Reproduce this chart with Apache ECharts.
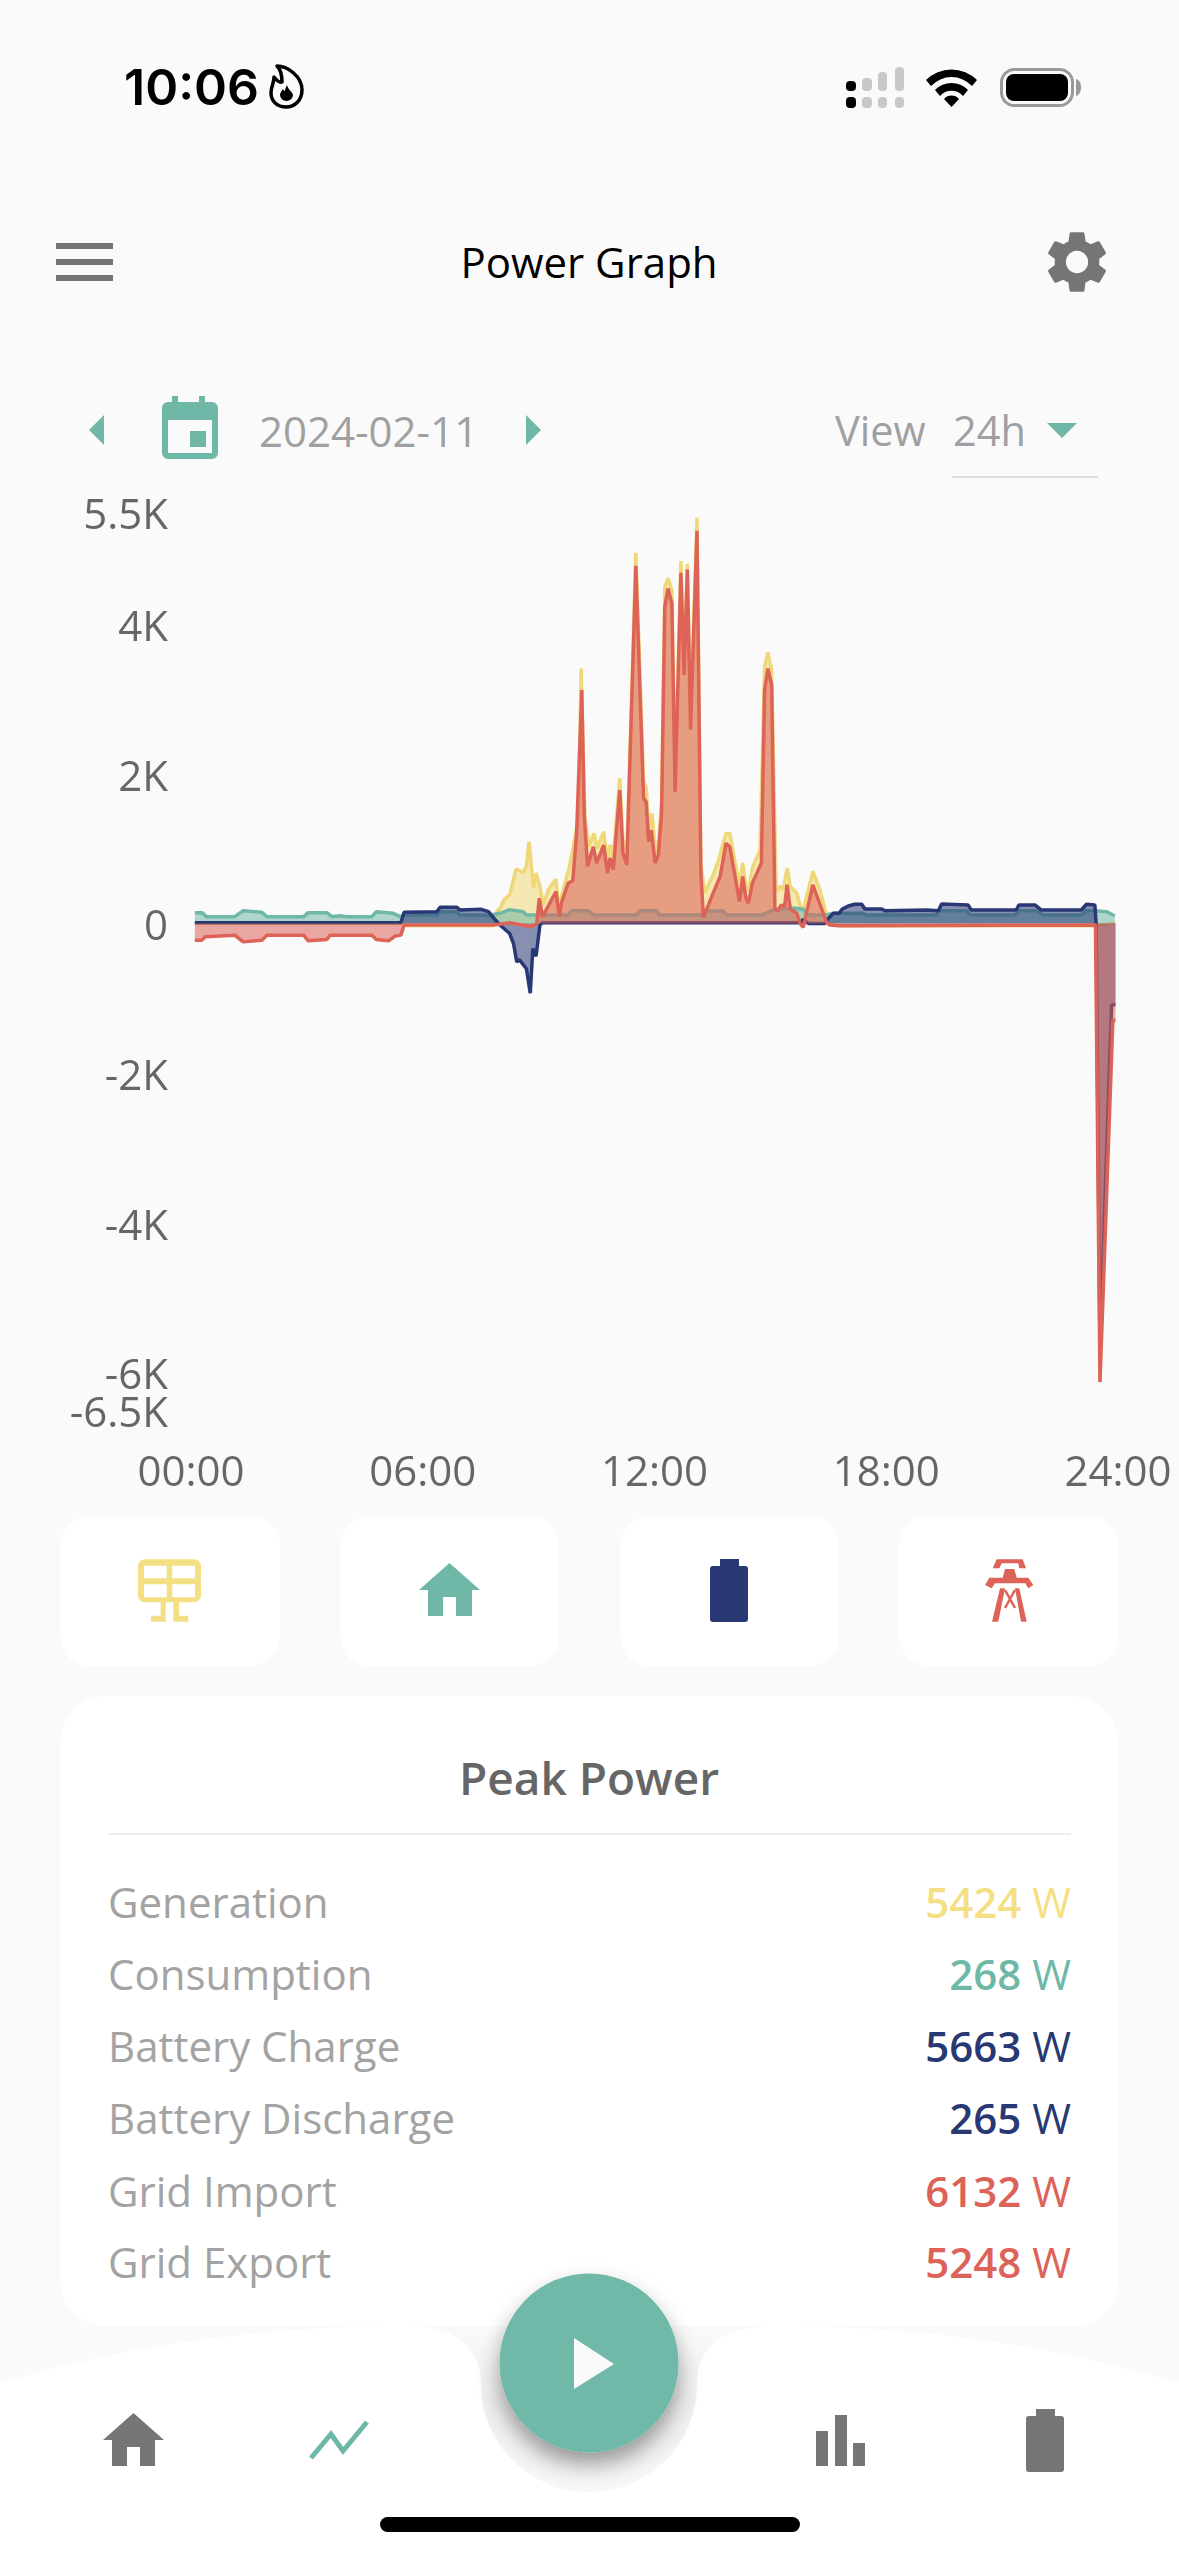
<!DOCTYPE html>
<html><head><meta charset="utf-8"><title>Power Graph</title>
<script src="https://cdn.jsdelivr.net/npm/echarts@6/dist/echarts.min.js"></script>
<style>
html,body{margin:0;padding:0;background:#fafafa;width:1179px;height:2556px;overflow:hidden;font-family:"Open Sans",sans-serif}
#chart{position:absolute;left:0;top:480px;width:1179px;height:1040px}
#art{position:absolute;left:0;top:0;width:1179px;height:2556px}
.t{position:absolute;line-height:1;white-space:nowrap}
.c{transform:translateX(-50%)}
.r{transform:translateX(-100%)}
</style></head><body>
<svg id="art" viewBox="0 0 1179 2556" xmlns="http://www.w3.org/2000/svg">
<defs>
<linearGradient id="notch" x1="0" y1="0" x2="0" y2="1"><stop offset="0" stop-color="#fafafa"/><stop offset=".45" stop-color="#efefef"/><stop offset=".75" stop-color="#f3f3f3"/><stop offset="1" stop-color="#f8f8f8"/></linearGradient>
<filter id="btnShadow" x="-40%" y="-40%" width="180%" height="180%"><feDropShadow dx="0" dy="12" stdDeviation="11" flood-color="#000" flood-opacity=".38"/></filter>
</defs>
<!-- status bar -->
<g>
<path d="M277 66C287 66 302 76 302 90C302 100 295 107 286 107C277 107 271 101 271 93C271 87 274 83 274 77C278 82 280 83 282 82C282 76 281 70 277 66z" fill="none" stroke="#000" stroke-width="3.500" stroke-linejoin="round"/>
<path d="M287 85C288 90 293 92 293 95A6.500 6 0 0 1 280 95C280 92 282 91 283 89C284 91 285 91 285 91C285 89 286 87 287 85z" fill="#000"/>
<rect x="846" y="81" width="10" height="10" rx="4" fill="#000"/><rect x="862" y="78" width="10" height="13" rx="4" fill="#c8c8c8"/><rect x="878" y="72" width="9" height="19" rx="4" fill="#c8c8c8"/><rect x="895" y="67" width="9" height="24" rx="4" fill="#c8c8c8"/>
<rect x="846" y="97" width="10" height="11" rx="4" fill="#000"/><rect x="862" y="97" width="10" height="11" rx="4" fill="#c8c8c8"/><rect x="878" y="97" width="9" height="11" rx="4" fill="#c8c8c8"/><rect x="895" y="97" width="9" height="11" rx="4" fill="#c8c8c8"/>
<path d="M926 80a36 36 0 0 1 51 0l-5 6a28 28 0 0 0-41 0z M935 90a23 23 0 0 1 33 0l-5 6a15 15 0 0 0-23 0z M944 99a10 10 0 0 1 15 0l-7.500 8z" fill="#000"/>
<rect x="1001.500" y="69.500" width="71" height="36" rx="13" fill="none" stroke="#999" stroke-width="3"/>
<rect x="1006" y="74" width="62" height="27" rx="8" fill="#000"/>
<path d="M1076 79c4 1 5 5 5 8s-1 8-5 9z" fill="#999"/>
</g>
<!-- header icons -->
<g fill="#757575"><rect x="56" y="243" width="57" height="6"/><rect x="56" y="259" width="57" height="6"/><rect x="56" y="275" width="57" height="6"/></g>
<g transform="translate(1077 262) scale(3.100) translate(-12 -12)" fill="#757575"><path d="M19.14,12.94c0.04-0.3,0.06-0.61,0.06-0.94c0-0.32-0.02-0.64-0.07-0.94l2.03-1.58c0.18-0.14,0.23-0.41,0.12-0.61 l-1.92-3.32c-0.12-0.22-0.37-0.29-0.59-0.22l-2.39,0.96c-0.5-0.38-1.03-0.7-1.62-0.94L14.4,2.81c-0.04-0.24-0.24-0.41-0.48-0.41 h-3.84c-0.24,0-0.43,0.17-0.47,0.41L9.25,5.35C8.66,5.59,8.12,5.92,7.63,6.29L5.24,5.33c-0.22-0.08-0.47,0-0.59,0.22L2.74,8.87 C2.62,9.08,2.66,9.34,2.86,9.48l2.03,1.58C4.84,11.36,4.8,11.69,4.8,12s0.02,0.64,0.07,0.94l-2.03,1.58 c-0.18,0.14-0.23,0.41-0.12,0.61l1.92,3.32c0.12,0.22,0.37,0.29,0.59,0.22l2.39-0.96c0.5,0.38,1.03,0.7,1.62,0.94l0.36,2.54 c0.05,0.24,0.24,0.41,0.48,0.41h3.84c0.24,0,0.44-0.17,0.47-0.41l0.36-2.54c0.59-0.24,1.13-0.56,1.62-0.94l2.39,0.96 c0.22,0.08,0.47,0,0.59-0.22l1.92-3.32c0.12-0.22,0.07-0.47-0.12-0.61L19.14,12.94z M12,15.6c-1.98,0-3.6-1.62-3.6-3.6 s1.62-3.6,3.6-3.6s3.6,1.62,3.6,3.6S13.98,15.6,12,15.6z"/></g>
<!-- date row -->
<g fill="#6fb8a8">
<path d="M104 415L89 430L104 445z"/>
<path d="M526 415L541 430L526 445z"/>
<path d="M1047 423h30l-15 15z"/>
<path fill-rule="evenodd" d="M172 396h6v6h21v-6h6v6h7a6 6 0 0 1 6 6v45a6 6 0 0 1-6 6h-44a6 6 0 0 1-6-6v-45a6 6 0 0 1 6-6h4z M168 420v33h44v-33z M190 431h16v16h-16z"/>
</g>
<rect x="952" y="476" width="146" height="2" fill="#ddd"/>
<!-- tiles -->
<g fill="#fff"><rect x="60" y="1516" width="220" height="150" rx="30"/><rect x="340" y="1516" width="219" height="150" rx="30"/><rect x="620" y="1516" width="219" height="150" rx="30"/><rect x="899" y="1516" width="219" height="150" rx="30"/></g>
<g fill="#f5df85"><path fill-rule="evenodd" d="M145 1559.300h49a7 7 0 0 1 7 7v29a7 7 0 0 1-7 7h-49a7 7 0 0 1-7-7v-29a7 7 0 0 1 7-7z M144 1565.700v12.600h22.700v-12.600z M172.300 1565.700v12.600h22.700v-12.600z M144 1584.300v13h22.700v-13z M172.300 1584.300v13h22.700v-13z"/>
<path d="M160.700 1602h5v14h-5zM173.300 1602h5.700v14h-5.700zM151 1615.700h14.700v6h-14.700zM173.300 1615.700h15v6h-15z"/></g>
<path fill="#6fb8a8" d="M449.500 1563L480 1590H472V1616H456V1597H443V1616H428V1590H419z"/>
<path fill="#283874" d="M720 1559h19v7h6a3 3 0 0 1 3 3v50a3 3 0 0 1-3 3h-32a3 3 0 0 1-3-3v-50a3 3 0 0 1 3-3h7z"/>
<g fill="#dd6358">
<path d="M996.700 1559.300H1022.700L1026 1568.300H1019.300L1018.300 1563.300H1001.700L999.300 1568.300H992.700z"/>
<path d="M1005 1569H1014.300L1016.700 1577.700H1028.300L1033.300 1585L1028.300 1588.300L1025.300 1583.300H995L991.700 1588.300L985 1585L989.300 1577.700H1002.700z"/>
<path d="M1000 1588.300H1005L998.300 1621.700H992z"/>
<path d="M1015 1588.300H1019.300L1026.700 1621.700H1021z"/>
</g>
<path d="M1005 1590L1015 1608M1015 1590L1005 1608" stroke="#dd6358" stroke-width="2.500" fill="none"/>
<!-- card -->
<rect x="60" y="1696" width="1058" height="630" rx="46" fill="#fff"/>
<rect x="108" y="1833" width="963" height="2" fill="#eee"/>
<!-- bottom nav -->
<path d="M0 2383Q190 2326 406 2326C460 2326 481 2350 481 2384A108 108 0 0 0 697 2384C697 2350 718 2326 772 2326Q989 2326 1179 2383V2556H0z" fill="#fff"/>
<path d="M481 2384C481 2350 460 2326 406 2326H772C718 2326 697 2350 697 2384A108 108 0 0 1 481 2384z" fill="url(#notch)"/>
<circle cx="589" cy="2363" r="89.500" fill="#6fb8a8" filter="url(#btnShadow)"/>
<path d="M574 2338L614 2364L574 2389z" fill="#fafafa"/>
<path fill="#757575" d="M133.500 2413L164 2440H155V2466H140V2447H127V2466H112V2440H103z"/>
<path d="M311 2458L331 2434L343 2451L367 2422" fill="none" stroke="#6fb8a8" stroke-width="5"/>
<g fill="#757575"><rect x="816" y="2431" width="12" height="35"/><rect x="835" y="2415" width="12" height="51"/><rect x="853" y="2443" width="12" height="23"/>
<path d="M1036 2409h19v7h6a3 3 0 0 1 3 3v50a3 3 0 0 1-3 3h-32a3 3 0 0 1-3-3v-50a3 3 0 0 1 3-3h7z"/></g>
<rect x="380" y="2517" width="420" height="15" rx="7.500" fill="#000"/>
</svg>

<div id="chart"></div>

<div class="t" style="left:124px;top:62px;font:600 50px/1 Inter,sans-serif;color:#000">10:06</div>
<div class="t c" style="left:589px;top:241px;font-size:42px;color:#000">Power Graph</div>
<div class="t" style="left:259px;top:410px;font-size:42px;color:#a0a0a0">2024-02-11</div>
<div class="t" style="left:835px;top:410px;font-size:41.500px;color:#a0a0a0">View</div>
<div class="t" style="left:953px;top:410px;font-size:41.500px;color:#a0a0a0">24h</div>
<div class="t c" style="left:589px;top:1754px;font-size:46px;font-weight:600;color:#666">Peak Power</div>
<div id="rows"></div>

<script>
var yTicks = [-6500, -4000, -2000, 0, 2000, 4000, 5500];
var yTicksNearMin = [-6000];
var xTicks = [0, 360, 720, 1080, 1440];
var xTickLabels = ['00:00', '06:00', '12:00', '18:00', '24:00'];

var genMin = [6,325,335,470,472,475,481,486,495,505,516,521,525,532,536,542,547,555,567,572,576,588,593,602,606,612,618,626,631,641,647,651,656,666,671,677,691,703,707,711,716,722,726,731,736,741,747,752,761,766,771,776,786,792,798,811,819,831,837,852,857,862,866,872,884,891,896,902,909,916,920,926,931,941,947,952,966,977,988,992,1008,1405,1436];
var genW =   [0,0,-30,-30,0,157,215,314,381,727,682,763,1092,471,673,493,247,449,592,135,381,763,987,1426,3409,1426,1025,1203,1002,1226,830,1047,897,1938,1115,942,4955,1894,1827,1270,1470,942,1070,1649,4501,4612,4456,1938,4843,3520,4804,2807,5424,807,404,650,830,1203,1203,493,807,516,426,740,987,3431,3623,3386,426,502,449,740,493,404,215,202,695,449,90,-22,-30,-30,10];

var useMin = [6,17,24,68,81,110,118,175,182,211,219,231,242,281,288,314,325,331,382,387,413,417,451,464,483,495,516,521,586,591,617,625,692,697,723,728,793,801,827,832,886,904,930,938,951,959,987,998,1044,1049,1158,1162,1205,1210,1280,1288,1313,1324,1383,1391,1404,1407,1422,1427,1435];
var useW =   [144,144,90,90,170,148,90,90,144,144,90,103,90,90,157,135,90,112,112,157,157,112,112,108,144,184,157,112,112,170,170,112,112,170,170,112,112,166,166,112,112,179,202,202,188,112,112,135,135,112,112,170,170,112,112,170,170,112,112,170,170,157,157,135,99];

var batMin = [6,326,331,382,387,413,418,451,462,472,480,495,501,506,510,521,527,531,536,542,546,946,951,959,985,990,998,1007,1011,1021,1031,1042,1047,1073,1078,1143,1161,1166,1207,1212,1282,1286,1311,1321,1383,1391,1404,1406,1412,1430,1436];
var batW =   [9,9,148,157,215,215,179,188,157,54,-22,-135,-269,-516,-484,-606,-933,-336,-440,-22,9,9,54,0,0,67,135,135,188,233,256,256,193,193,170,179,170,260,247,179,179,247,247,179,179,256,247,0,-5663,-1089,-1089];

var gridMin = [6,17,22,68,81,110,118,175,182,211,216,281,288,307,317,326,331,470,495,527,537,541,546,567,572,576,586,593,599,607,611,616,625,630,641,647,651,656,666,671,677,691,703,707,711,715,721,726,731,736,741,747,752,761,766,771,776,786,792,796,811,822,831,837,852,857,862,866,872,886,891,896,902,907,911,917,922,926,931,941,946,951,966,987,992,1008,1405,1412,1432,1436];
var gridW =   [-224,-224,-179,-157,-247,-224,-157,-157,-233,-215,-157,-157,-215,-233,-170,-157,-22,-22,9,-45,-9,336,90,426,90,292,538,570,1203,3119,1426,763,1025,807,1047,673,875,718,1782,942,785,4782,1671,1626,1092,1248,807,920,1470,4233,4478,4278,1760,4687,3320,4732,2594,5248,673,81,404,628,1070,1025,292,628,336,269,538,807,3119,3409,3186,202,170,247,224,516,188,135,0,-54,516,22,-22,-31,-20,-6132,-1298,-1298];

var seriesNames = ['Generation', 'Consumption', 'Battery', 'Grid'];
var seriesColors = ['#f0d878', '#6fb8a8', '#283874', '#dd6358'];
var seriesTimes = [genMin, useMin, batMin, gridMin];
var seriesWatts = [genW, useW, batW, gridW];

var peakLabels = ['Generation', 'Consumption', 'Battery Charge', 'Battery Discharge', 'Grid Import', 'Grid Export'];
var peakValues = [5424, 268, 5663, 265, 6132, 5248];
var peakColors = ['#f5df85', '#6fb8a8', '#283874', '#283874', '#dd6358', '#dd6358'];
var rowCenters = [1901.5, 1973.5, 2045.5, 2117.5, 2190.5, 2261.5];

var rows = document.getElementById('rows');
peakLabels.forEach(function (lab, i) {
  var a = document.createElement('div');
  a.className = 't';
  a.style.cssText = 'left:108px;top:' + (rowCenters[i] - 21) + 'px;font-size:42px;color:#a3a3a3';
  a.textContent = lab;
  rows.appendChild(a);
  var b = document.createElement('div');
  b.className = 't r';
  b.style.cssText = 'left:1071px;top:' + (rowCenters[i] - 21) + 'px;font-size:42px;color:' + peakColors[i];
  var s = document.createElement('span');
  s.style.fontWeight = 600;
  s.textContent = peakValues[i];
  b.appendChild(s);
  b.appendChild(document.createTextNode(' W'));
  rows.appendChild(b);
});

function yAxisFor(values) {
  return {
    type: 'value', min: -6500, max: 5500, position: 'left', offset: 0, alignTicks: false,
    splitLine: {show: false}, axisLine: {show: false}, axisTick: {show: false},
    axisLabel: {
      customValues: values, margin: 23,
      showMinLabel: true, showMaxLabel: true, hideOverlap: false,
      rich: {v: {fontSize: 42, lineHeight: 24, color: '#666', fontFamily: 'Open Sans', padding: [10, 0, 0, 0]}},
      formatter: function (v) { return '{v|' + (v === 0 ? '0' : (v / 1000) + 'K') + '}'; }
    }
  };
}

var chart = echarts.init(document.getElementById('chart'), null, {renderer: 'canvas', width: 1179, height: 1040});
chart.setOption({
  animation: false,
  backgroundColor: 'transparent',
  grid: {left: 191, right: 61, top: 32, height: 897.6, containLabel: false},
  xAxis: {
    type: 'value', min: 0, max: 1440,
    splitLine: {show: false}, axisLine: {show: false}, axisTick: {show: false},
    axisLabel: {
      customValues: xTicks, margin: 43, color: '#666', fontSize: 42, fontFamily: 'Open Sans',
      showMinLabel: true, showMaxLabel: true, hideOverlap: false,
      formatter: function (v) { return xTickLabels[xTicks.indexOf(v)]; }
    }
  },
  yAxis: [yAxisFor(yTicks), yAxisFor(yTicksNearMin)],
  series: seriesNames.map(function (name, i) {
    return {
      name: name, type: 'line', symbol: 'none', smooth: false, z: 2 + i, yAxisIndex: 0,
      lineStyle: {color: seriesColors[i], width: 3.5},
      itemStyle: {color: seriesColors[i]},
      areaStyle: {color: seriesColors[i], opacity: 0.55},
      data: seriesTimes[i].map(function (t, k) { return [t, seriesWatts[i][k]]; })
    };
  })
});
</script>
</body></html>
